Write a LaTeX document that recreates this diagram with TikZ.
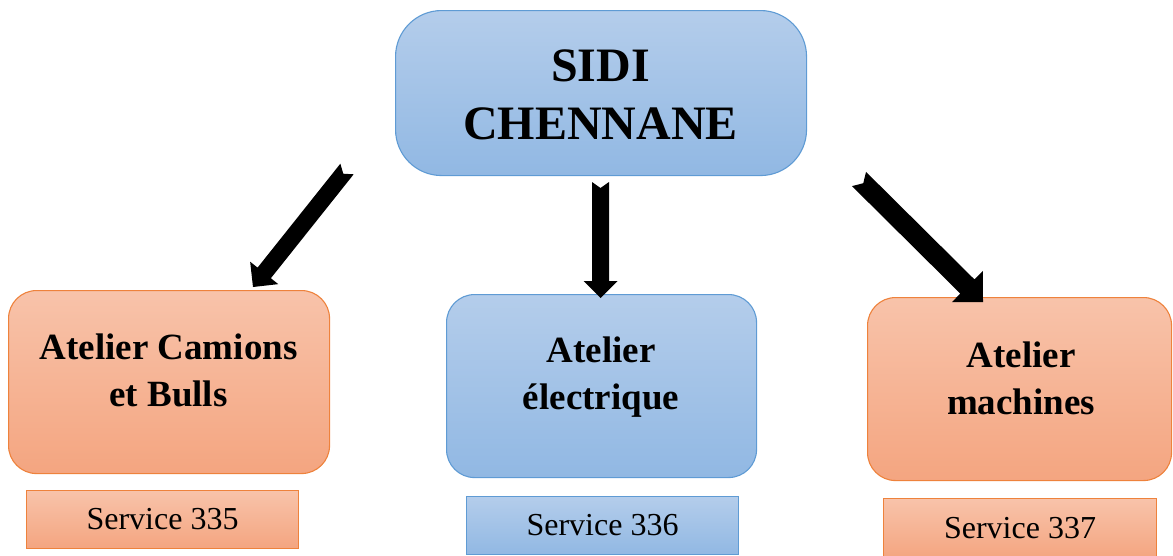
\documentclass[tikz,border=0pt]{standalone}
\usepackage{fontspec}
\setmainfont{Liberation Serif}[BoldFont={Liberation Serif Bold}]
\newfontfamily\boldserif{Liberation Serif Bold}
\usetikzlibrary{calc}

\definecolor{blueTop}{RGB}{180,205,235}
\definecolor{blueBot}{RGB}{145,184,227}
\definecolor{blueLine}{RGB}{95,155,212}
\definecolor{orTop}{RGB}{248,195,170}
\definecolor{orBot}{RGB}{244,165,128}
\definecolor{orLine}{RGB}{238,130,60}

% block arrow with a notched tail: #1 tail, #2 tip, #3 half shaft width, #4 half head width
\newcommand\blockarrow[4]{%
  \path ($(#2)!#4!(#1)$) coordinate (ahb);
  \fill[black]
    ($(#1)!#3!90:(#2)$) -- ($(#1)!6pt!(#2)$) -- ($(#1)!#3!-90:(#2)$)
    -- ($(ahb)!#3!-90:(#2)$) -- ($(ahb)!#4!-90:(#2)$) -- (#2)
    -- ($(ahb)!#4!90:(#2)$) -- ($(ahb)!#3!90:(#2)$) -- cycle;
}

\tikzset{
  box/.style={inner sep=0pt, anchor=north west, line width=1.1pt},
  bluebox/.style={box, draw=blueLine, top color=blueTop, bottom color=blueBot},
  orbox/.style={box, draw=orLine, top color=orTop, bottom color=orBot},
  headtxt/.style={align=center, font=\boldserif\fontsize{48}{58}\selectfont},
  wstxt/.style={align=center, font=\boldserif\fontsize{37}{47}\selectfont},
  svctxt/.style={font=\fontsize{32}{38}\selectfont},
}

\begin{document}
\begin{tikzpicture}[x=1pt,y=-1pt]
\useasboundingbox (0,0) rectangle (1173,555);

% main unit
\node[bluebox, rounded corners=46pt, minimum width=411pt, minimum height=165pt] (top) at (395,10) {};
\node[headtxt] (toptxt) at (600.5,95) {SIDI\\CHENNANE};

% workshops
\node[orbox, rounded corners=28pt, minimum width=321pt, minimum height=183pt] (cam) at (8,290) {};
\node[wstxt] (camtxt) at (168.5,370) {Atelier Camions\\et Bulls};

\node[bluebox, rounded corners=28pt, minimum width=310pt, minimum height=183pt] (elec) at (446,294) {};
\node[wstxt] (electxt) at (601,377) {Atelier\\électrique};

\node[orbox, rounded corners=28pt, minimum width=304pt, minimum height=183pt] (mach) at (867,297) {};
\node[wstxt] (machtxt) at (1021,378) {Atelier\\machines};

% service numbers
\node[orbox, svctxt, minimum width=272pt, minimum height=58pt] (s335) at (26,490) {Service 335};
\node[bluebox, svctxt, minimum width=272pt, minimum height=58pt] (s336) at (466,496) {Service 336};
\node[orbox, svctxt, minimum width=273pt, minimum height=60pt] (s337) at (883,498) {Service 337};

% arrows from the main unit to the workshops
\coordinate (a1t) at (347,169);
\coordinate (a1p) at (253,287);
\coordinate (a2t) at (600.5,182);
\coordinate (a2p) at (600.5,298);
\coordinate (a3t) at (859,179);
\coordinate (a3p) at (983,302);
\blockarrow{a1t}{a1p}{8.5pt}{18pt}
\blockarrow{a2t}{a2p}{8.5pt}{17pt}
\blockarrow{a3t}{a3p}{10pt}{22pt}
\end{tikzpicture}
\end{document}
